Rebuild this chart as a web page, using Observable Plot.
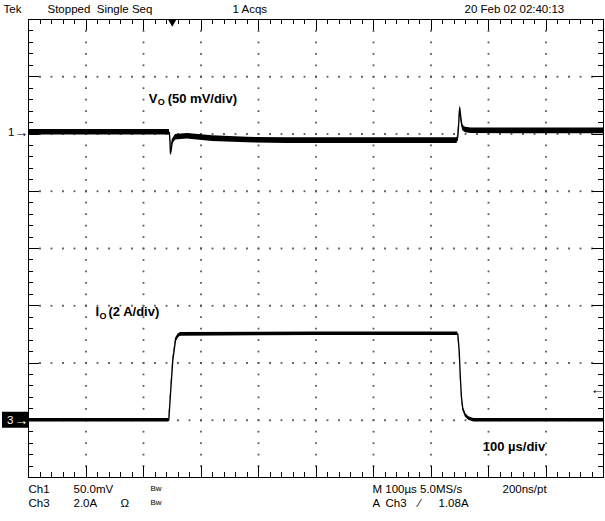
<!DOCTYPE html>
<html><head><meta charset="utf-8">
<script src="https://cdn.jsdelivr.net/npm/d3@7"></script>
<script src="https://cdn.jsdelivr.net/npm/@observablehq/plot@0.6"></script>
<style>
html,body{margin:0;padding:0;background:#fff;}
svg{display:block;}
svg text{white-space:pre;}
</style></head><body><div id="chart"></div>
<script>
// Ch1: output voltage deviation Vo (mV), 50 mV/div
const voTime = [0, 245, 246.3, 247, 248, 250, 255.7, 276, 320, 380, 450, 600, 745.5, 747, 750, 753, 755.3, 760, 770, 1000];
const voMv   = [0, 0, -9, -18.5, -16, -8.7, -4.4, -3.5, -5.5, -6.8, -7.3, -7.3, -7.3, -2, 21.3, 8.7, 3.8, 2, 1.3, 1.2];
// Ch3: output current Io (A), 2 A/div
const ioTime = [0, 244, 247, 251, 255.7, 259.7, 264.3, 500, 746.6, 749, 751.3, 753, 755.3, 760, 765.7, 774.4, 1000];
const ioAmp  = [0, 0, 0.93, 2.10, 2.79, 2.94, 3.0, 3.02, 3.02, 2.45, 1.40, 0.81, 0.41, 0.17, 0.06, 0, 0];
// channel settings
const ch1Pos = 2.03, ch3Pos = -3;      // ground marker position (div)
const voltsPerDiv = 50, ampsPerDiv = 2;
const trigTime = 250, trigLevel = 1.08; // µs, A
// screen texts
const headerTexts = ["Tek", "Stopped  Single Seq", "1 Acqs", "20 Feb 02 02:40:13"];
const footRow1 = ["Ch1", "50.0mV", "Bw", "M 100µs 5.0MS/s", "200ns/pt"];
const footRow2 = ["Ch3", "2.0A", "Ω", "Bw", "A", "Ch3", "⁄", "1.08A"];

const FONT = "'Liberation Sans', Arial, sans-serif";
const vo = voTime.map((t, i) => ({t, y: ch1Pos + voMv[i] / voltsPerDiv}));
const io = ioTime.map((t, i) => ({t, y: ch3Pos + ioAmp[i] / ampsPerDiv}));

// graticule (10 x 8 divisions, 5 minor per division)
const minorX = d3.range(20, 1000, 20).filter(x => x % 100 !== 0);
const majorX = d3.range(100, 1000, 100);
const minorY = d3.range(-19, 20).map(i => i / 5).filter(y => Math.abs(y - Math.round(y)) > 1e-6);
const majorY = d3.range(-3, 4);
const dots = [];
for (const y of majorY) for (const x of d3.range(20, 1000, 20)) dots.push({x, y});
for (const x of majorX) for (const y of d3.range(-19, 20).map(i => i / 5)) dots.push({x, y});

const txt = (text, px, py, o = {}) => Plot.text([text], {text: d => d, frameAnchor: "top-left", dx: px - 28, dy: py - 19, textAnchor: "start", lineAnchor: "middle", fill: "black", fontSize: 11.5, ...o});
const crisp = {stroke: "black", strokeWidth: 1, shapeRendering: "crispEdges"};

const pxX = 0.575, pxY = 57.25;
const chart = Plot.plot({
  width: 605, height: 521,
  marginTop: 19, marginBottom: 44, marginLeft: 28, marginRight: 2,
  x: {domain: [0, 1000], axis: null},
  y: {domain: [-4, 4], axis: null},
  style: {background: "white", fontFamily: FONT, fontSize: "11px", overflow: "visible"},
  marks: [
    Plot.dot(dots, {x: "x", y: "y", symbol: "square", r: 1, fill: "#555", stroke: null}),
    Plot.frame(crisp),
    // edge ticks
    Plot.ruleX(minorX, {x: d => d, y1: 4, y2: 4 - 5 / pxY, ...crisp}),
    Plot.ruleX(majorX, {x: d => d, y1: 4, y2: 4 - 11 / pxY, ...crisp}),
    Plot.ruleX(minorX, {x: d => d, y1: -4, y2: -4 + 5 / pxY, ...crisp}),
    Plot.ruleX(majorX, {x: d => d, y1: -4, y2: -4 + 11 / pxY, ...crisp}),
    Plot.ruleY(minorY, {y: d => d, x1: 0, x2: 5 / pxX, ...crisp}),
    Plot.ruleY(majorY, {y: d => d, x1: 0, x2: 11 / pxX, ...crisp}),
    Plot.ruleY(minorY, {y: d => d, x1: 1000, x2: 1000 - 5 / pxX, ...crisp}),
    Plot.ruleY(majorY, {y: d => d, x1: 1000, x2: 1000 - 11 / pxX, ...crisp}),
    // traces
    Plot.areaY(vo, {x: "t", y1: d => d.y - 2.8 / pxY, y2: d => d.y + 2.8 / pxY, fill: "black"}),
    Plot.line(vo, {x: "t", y: "y", stroke: "black", strokeWidth: 1.3}),
    Plot.areaY(io, {x: "t", y1: d => d.y - 1.8 / pxY, y2: d => d.y + 1.8 / pxY, fill: "black"}),
    Plot.line(io, {x: "t", y: "y", stroke: "black", strokeWidth: 1.3}),
    // trigger markers
    Plot.dot([trigTime], {x: d => d, frameAnchor: "top", symbol: "triangle", rotate: 180, r: 3.3, dy: 2, fill: "black", stroke: null}),
    Plot.text([ch3Pos + trigLevel / ampsPerDiv], {y: d => d, frameAnchor: "right", text: () => "←", textAnchor: "end", dx: 1, fontSize: 14, fontWeight: "bold", fill: "black"}),
    // channel ground markers
    Plot.text([ch1Pos], {y: d => d, frameAnchor: "left", text: () => "1", textAnchor: "end", dx: -14, fontSize: 11.5, fill: "black"}),
    Plot.text([ch1Pos], {y: d => d, frameAnchor: "left", text: () => "→", textAnchor: "end", dx: 0, fontSize: 14, fontWeight: "bold", fill: "black"}),
    Plot.rect([ch3Pos], {x1: -26 / pxX, x2: 0, y1: d => d - 8 / pxY, y2: d => d + 8 / pxY, fill: "black"}),
    Plot.text([ch3Pos], {y: d => d, frameAnchor: "left", text: () => "3", textAnchor: "end", dx: -15, fontSize: 11.5, fill: "white"}),
    Plot.text([ch3Pos], {y: d => d, frameAnchor: "left", text: () => "→", textAnchor: "end", dx: 0, fontSize: 14, fontWeight: "bold", fill: "white"}),
    // trace labels
    Plot.text(["V"], {x: () => 209, y: () => 2.62, text: d => d, textAnchor: "start", fontWeight: "bold", fontSize: 13, fill: "black"}),
    Plot.text(["O"], {x: () => 209, y: () => 2.62, text: d => d, textAnchor: "start", dx: 9, dy: 4, fontWeight: "bold", fontSize: 9, fill: "black"}),
    Plot.text(["(50 mV/div)"], {x: () => 209, y: () => 2.62, text: d => d, textAnchor: "start", dx: 19, fontWeight: "bold", fontSize: 13, fill: "black"}),
    Plot.text(["I"], {x: () => 116.5, y: () => -1.11, text: d => d, textAnchor: "start", fontWeight: "bold", fontSize: 13, fill: "black"}),
    Plot.text(["O"], {x: () => 116.5, y: () => -1.11, text: d => d, textAnchor: "start", dx: 4, dy: 4, fontWeight: "bold", fontSize: 9, fill: "black"}),
    Plot.text(["(2 A/div)"], {x: () => 116.5, y: () => -1.11, text: d => d, textAnchor: "start", dx: 13, fontWeight: "bold", fontSize: 13, fill: "black"}),
    Plot.text(["100 µs/div"], {x: () => 790, y: () => -3.46, text: d => d, textAnchor: "start", fontWeight: "bold", fontSize: 13, fill: "black"}),
    // header
    txt(headerTexts[0], 3, 8.5),
    txt(headerTexts[1], 47, 8.5),
    txt(headerTexts[2], 232, 8.5),
    txt(headerTexts[3], 464, 8.5),
    // footer
    txt(footRow1[0], 28, 489),
    txt(footRow1[1], 73, 489),
    txt(footRow1[2], 150, 488, {fontSize: 8}),
    txt(footRow1[3], 372, 489),
    txt(footRow1[4], 502, 489),
    txt(footRow2[0], 28, 503),
    txt(footRow2[1], 73, 503),
    txt(footRow2[2], 120, 503),
    txt(footRow2[3], 150, 502, {fontSize: 8}),
    txt(footRow2[4], 372, 503),
    txt(footRow2[5], 385, 503),
    txt(footRow2[6], 418, 503),
    txt(footRow2[7], 438, 503)
  ]
});
document.getElementById("chart").append(chart);
</script></body></html>
